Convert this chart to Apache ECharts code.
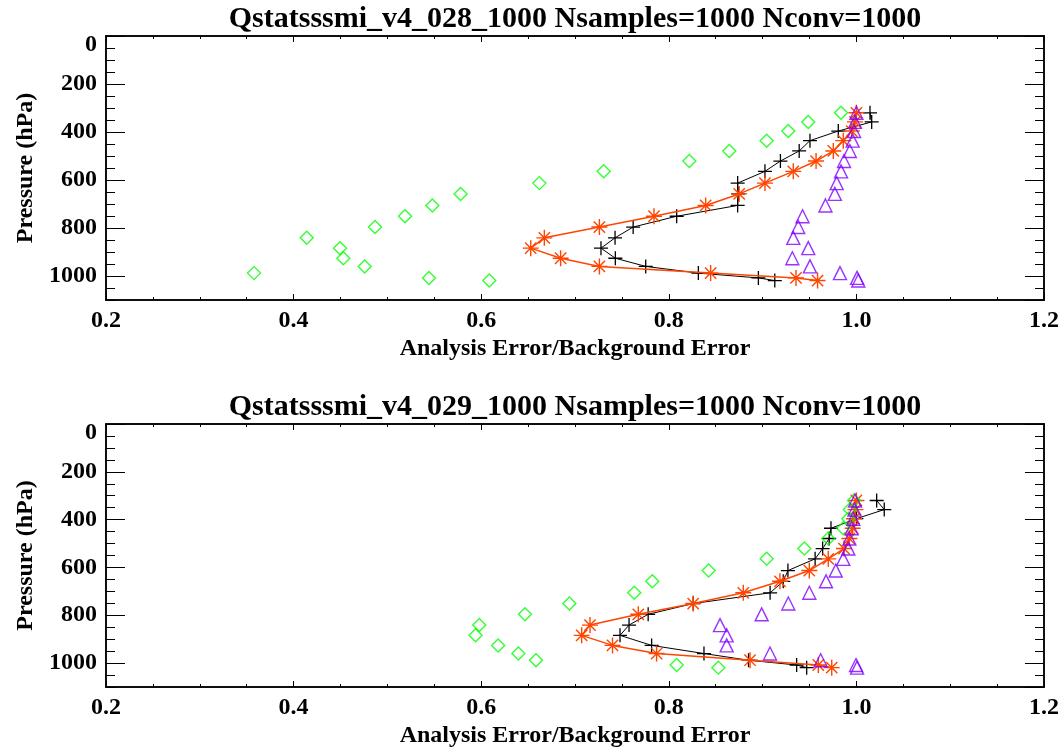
<!DOCTYPE html>
<html>
<head>
<meta charset="utf-8">
<script src="https://cdn.jsdelivr.net/npm/echarts@6/dist/echarts.min.js"></script>
<style>
  html, body { margin: 0; padding: 0; background: #ffffff; }
  #chart { width: 1064px; height: 749px; }
</style>
</head>
<body>
<div id="chart"></div>
<script>
// Model pressure levels (hPa), shared by every profile
const pressureLevels = [320, 358, 396, 436, 479, 521, 564, 613, 658, 706, 751, 796, 841, 884, 926, 960, 988, 1008, 1019];

const panelTitles = [
  'Qstatsssmi_v4_028_1000 Nsamples=1000 Nconv=1000',
  'Qstatsssmi_v4_029_1000 Nsamples=1000 Nconv=1000'
];
const xAxisTitle = 'Analysis Error/Background Error';
const yAxisTitle = 'Pressure (hPa)';

// Panel 028 ratio profiles
const plus028     = [1.0145, 1.0163, 0.9807, 0.9505, 0.939, 0.919, 0.9025, 0.8734, 0.874, 0.8734, 0.8084, 0.762, 0.7427, 0.7277, 0.743, 0.7754, 0.8315, 0.8955, 0.913];
const star028     = [1.0, 0.9985, 0.995, 0.986, 0.9754, 0.957, 0.9327, 0.9025, 0.875, 0.8393, 0.7842, 0.726, 0.6673, 0.6528, 0.6847, 0.726, 0.8446, 0.9356, 0.9586];
const diamond028  = [0.9836, 0.9487, 0.9274, 0.9043, 0.8645, 0.8219, 0.7306, 0.662, 0.578, 0.5479, 0.5188, 0.4868, 0.414, 0.4495, 0.453, 0.4758, 0.3578, 0.5443, 0.6086];
const triangle028 = [1.0, 0.9985, 0.9975, 0.996, 0.993, 0.9868, 0.9836, 0.979, 0.977, 0.967, 0.9426, 0.938, 0.9327, 0.9487, 0.9317, 0.9505, 0.9825, 1.0007, 1.002];

// Panel 029 ratio profiles
const plus029     = [1.0216, 1.0297, 1.0, 0.9729, 0.971, 0.964, 0.956, 0.927, 0.922, 0.908, 0.826, 0.778, 0.7576, 0.748, 0.7817, 0.8375, 0.885, 0.9363, 0.947];
const star029     = [1.0, 0.999, 0.9975, 0.996, 0.9925, 0.9868, 0.97, 0.9498, 0.9185, 0.8794, 0.826, 0.7675, 0.716, 0.7071, 0.74, 0.787, 0.8866, 0.9594, 0.9737];
const diamond029  = [0.9975, 0.993, 0.9914, 0.986, 0.97, 0.9445, 0.9043, 0.8425, 0.7824, 0.7632, 0.694, 0.6467, 0.598, 0.594, 0.618, 0.6396, 0.6584, 0.8084, 0.8528];
const triangle029 = [0.9985, 0.998, 0.9967, 0.995, 0.9925, 0.9914, 0.986, 0.978, 0.9676, 0.9498, 0.9274, 0.899, 0.8546, 0.8617, 0.8617, 0.9079, 0.9619, 0.9996, 1.0007];

const panels = [
  { title: panelTitles[0], plus: plus028, star: star028, diamond: diamond028, triangle: triangle028 },
  { title: panelTitles[1], plus: plus029, star: star029, diamond: diamond029, triangle: triangle029 }
];

const FONT = "'Liberation Serif', 'Times New Roman', serif";
const PLOT_LEFT = 106, PLOT_W = 938, PLOT_H = 264;
const PLOT_TOPS = [36, 424];

const SYM_PLUS = 'path://M0,-6L0,6M-6,0L6,0';
const SYM_STAR = 'path://M0,-6L0,6M-6,0L6,0M-4.24,-4.24L4.24,4.24M-4.24,4.24L4.24,-4.24';
const SYM_DIAMOND = 'path://M0,-6L6,0L0,6L-6,0Z';
const SYM_TRIANGLE = 'path://M0,-6L6,6L-6,6Z';

function pairs(values) {
  return values.map((v, i) => [v, pressureLevels[i]]);
}

const grids = [], xAxes = [], yAxes = [], series = [], graphics = [];

panels.forEach((panel, g) => {
  grids.push({ left: PLOT_LEFT, top: PLOT_TOPS[g], width: PLOT_W, height: PLOT_H, containLabel: false });

  // x axes: bottom major (labelled), bottom minor, top major, top minor
  [['bottom', 0.2, 6, true], ['bottom', 0.05, 3, false], ['top', 0.2, 6, false], ['top', 0.05, 3, false]]
    .forEach(([pos, step, len, labelled]) => {
      xAxes.push({
        gridIndex: g, type: 'value', position: pos, min: 0.2, max: 1.2, interval: step,
        name: labelled ? xAxisTitle : '', nameLocation: 'middle', nameGap: 37,
        nameTextStyle: { fontFamily: FONT, fontWeight: 'bold', fontSize: 24, color: '#000' },
        axisLine: { show: true, onZero: false, lineStyle: { color: '#000', width: 1.5 } },
        axisTick: { show: true, inside: true, length: len, lineStyle: { color: '#000', width: 1 } },
        axisLabel: {
          show: labelled, margin: 9, fontFamily: FONT, fontWeight: 'bold', fontSize: 24, color: '#000',
          formatter: v => v.toFixed(1)
        },
        splitLine: { show: false }
      });
    });

  // y axes: left major (labelled), left minor, right major, right minor
  [['left', 200, 19, true], ['left', 50, 9, false], ['right', 200, 19, false], ['right', 50, 9, false]]
    .forEach(([pos, step, len, labelled]) => {
      yAxes.push({
        gridIndex: g, type: 'value', position: pos, min: 0, max: 1100, interval: step, inverse: true,
        name: labelled ? yAxisTitle : '', nameLocation: 'middle', nameRotate: 90, nameGap: 68,
        nameTextStyle: { fontFamily: FONT, fontWeight: 'bold', fontSize: 24, color: '#000' },
        axisLine: { show: true, onZero: false, lineStyle: { color: '#000', width: 1.5 } },
        axisTick: { show: true, inside: true, length: len, lineStyle: { color: '#000', width: 1 } },
        axisLabel: {
          show: labelled, margin: 9, showMaxLabel: false,
          fontFamily: FONT, fontWeight: 'bold', fontSize: 24, color: '#000',
          formatter: v => (v === 0 ? '{z|0}' : String(v)),
          rich: { z: { fontFamily: FONT, fontWeight: 'bold', fontSize: 24, color: '#000', padding: [18, 0, 0, 0] } }
        },
        splitLine: { show: false }
      });
    });

  const xi = g * 4, yi = g * 4;

  series.push({
    type: 'line', xAxisIndex: xi, yAxisIndex: yi, data: pairs(panel.plus),
    symbol: SYM_PLUS, symbolSize: 14, showAllSymbol: true, z: 3,
    lineStyle: { color: '#000000', width: 1 },
    itemStyle: { color: '#000000', borderColor: '#000000', borderWidth: 1.3 }
  });
  series.push({
    type: 'line', xAxisIndex: xi, yAxisIndex: yi, data: pairs(panel.star),
    symbol: SYM_STAR, symbolSize: 16, showAllSymbol: true, z: 4,
    lineStyle: { color: '#ff4500', width: 1.5 },
    itemStyle: { color: '#ff4500', borderColor: '#ff4500', borderWidth: 1.4 }
  });
  series.push({
    type: 'scatter', xAxisIndex: xi, yAxisIndex: yi, data: pairs(panel.diamond),
    symbol: SYM_DIAMOND, symbolSize: 13, z: 5,
    itemStyle: { color: 'rgba(0,0,0,0)', borderColor: '#00ff00', borderWidth: 1.4 }
  });
  series.push({
    type: 'scatter', xAxisIndex: xi, yAxisIndex: yi, data: pairs(panel.triangle),
    symbol: SYM_TRIANGLE, symbolSize: 13, z: 6,
    itemStyle: { color: 'rgba(0,0,0,0)', borderColor: '#7f00ff', borderWidth: 1.4 }
  });

  graphics.push({
    type: 'text', x: PLOT_LEFT + PLOT_W / 2, y: PLOT_TOPS[g] - 17,
    style: {
      text: panel.title, fill: '#000', textAlign: 'center', textVerticalAlign: 'middle',
      font: "bold 30px 'Liberation Serif', 'Times New Roman', serif"
    }
  });
});

const chart = echarts.init(document.getElementById('chart'), null, { renderer: 'canvas' });
chart.setOption({
  animation: false,
  backgroundColor: '#ffffff',
  grid: grids,
  xAxis: xAxes,
  yAxis: yAxes,
  series: series,
  graphic: graphics
});
</script>
</body>
</html>
